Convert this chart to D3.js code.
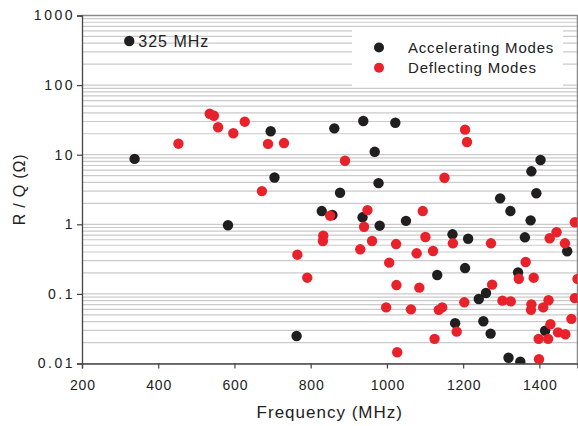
<!DOCTYPE html>
<html>
<head>
<meta charset="utf-8">
<script src="https://cdn.jsdelivr.net/npm/d3@7"></script>
<style>
    body { margin: 0; background: #fff; }
    text { font-family: "Liberation Sans", Arial, sans-serif; fill: #222; }
</style>
</head>
<body>
<div id="chart"></div>
<script>
// Accelerating modes (black)
const accelFreq = [324, 338, 583, 695, 705, 862, 938, 1022, 968, 978, 877, 829, 857, 936, 981, 1050,
    1172, 1213, 1132, 1205, 763, 1179, 1241, 1260, 1253, 1272, 1319, 1350, 1344, 1415, 1473, 1362,
    1377, 1297, 1324, 1379, 1403, 1392];
const accelRQ = [430, 8.7, 0.97, 21.7, 4.7, 23.9, 30.5, 28.8, 11.0, 3.9, 2.84, 1.55, 1.36, 1.26, 0.955, 1.12,
    0.718, 0.62, 0.187, 0.235, 0.0248, 0.038, 0.0845, 0.103, 0.0404, 0.0269, 0.0121, 0.0106, 0.204, 0.0296, 0.41, 0.65,
    1.14, 2.36, 1.55, 5.77, 8.4, 2.79];

// Deflecting modes (red)
const deflectFreq = [453, 535, 546, 557, 597, 627, 672, 688, 730, 890, 1205, 1210, 1151, 851, 949, 1094,
    1493, 940, 833, 832, 765, 791, 930, 961, 1024, 1101, 1078, 1121, 1173, 1273, 1006, 1025,
    1085, 998, 1063, 1136, 1145, 1125, 1027, 1183, 1203, 1276, 1303, 1325, 1346, 1364, 1385, 1379,
    1378, 1410, 1424, 1429, 1449, 1468, 1398, 1423, 1399, 1484, 1493, 1500, 1427, 1445, 1467];
const deflectRQ = [14.4, 38.8, 36.3, 24.8, 20.3, 29.8, 3.0, 14.3, 14.7, 8.2, 22.9, 15.2, 4.67, 1.33, 1.6, 1.55,
    1.07, 0.92, 0.686, 0.575, 0.366, 0.171, 0.437, 0.575, 0.52, 0.657, 0.383, 0.414, 0.533, 0.533, 0.281, 0.134,
    0.123, 0.064, 0.060, 0.059, 0.064, 0.0226, 0.0145, 0.0287, 0.0757, 0.136, 0.080, 0.078, 0.165, 0.287, 0.171, 0.0708,
    0.059, 0.064, 0.081, 0.0366, 0.028, 0.0263, 0.0226, 0.0226, 0.0115, 0.0438, 0.087, 0.164, 0.63, 0.77, 0.533];

const xTicks = [200, 400, 600, 800, 1000, 1200, 1400];
const yTicks = [0.01, 0.1, 1, 10, 100, 1000];
const yTickLabels = ["0.01", "0.1", "1", "10", "100", "1000"];
const seriesNames = ["Accelerating Modes", "Deflecting Modes"];
const seriesColors = ["#211e1f", "#e8212b"];

const margin = { top: 15.5, right: 0.5, bottom: 62.5, left: 82 },
    width = 578 - margin.left - margin.right,
    height = 426 - margin.top - margin.bottom;

const svg = d3.select("#chart")
    .append("svg")
    .attr("width", 578)
    .attr("height", 426);

const g = svg.append("g")
    .attr("transform", `translate(${margin.left},${margin.top})`);

// Scales
const xScale = d3.scaleLinear().domain([200, 1500]).range([0, width]);
const yScale = d3.scaleLog().domain([0.01, 1000]).range([height, 0]);

// Horizontal grid at every minor tick
g.append("g")
    .selectAll("line")
    .data(yScale.ticks())
    .join("line")
    .attr("x1", 0)
    .attr("x2", width)
    .attr("y1", d => yScale(d))
    .attr("y2", d => yScale(d))
    .attr("stroke", "#cacaca")
    .attr("stroke-width", 1.2);

// Top and right frame
g.append("path")
    .attr("d", `M0,0H${width}V${height}`)
    .attr("fill", "none")
    .attr("stroke", "#8a8a8a")
    .attr("stroke-width", 1.5);

// Axes
const xAxis = g.append("g")
    .attr("transform", `translate(0,${height})`)
    .call(d3.axisBottom(xScale).tickValues(xTicks).tickSize(5).tickPadding(12).tickFormat(d3.format("d")));

const yAxis = g.append("g")
    .call(d3.axisLeft(yScale).tickValues(yTicks).tickSize(5).tickPadding(2)
        .tickFormat((d, i) => yTickLabels[i]));

[xAxis, yAxis].forEach(ax => {
    ax.select(".domain").attr("stroke", "#444").attr("stroke-width", 1.3);
    ax.selectAll(".tick line").attr("stroke", "#444").attr("stroke-width", 1.2);
    ax.selectAll("text")
        .attr("font-family", "'Liberation Sans', Arial, sans-serif")
        .attr("font-size", 14)
        .attr("fill", "#222");
});
xAxis.selectAll("text").attr("letter-spacing", 0.8).attr("dx", "0.4");
yAxis.selectAll("text").attr("letter-spacing", 2.5);

// Points
svg.append("clipPath").attr("id", "plotClip")
    .append("rect").attr("width", width).attr("height", height);

const pts = g.append("g").attr("clip-path", "url(#plotClip)");

const accelData = accelFreq.map((f, i) => ({ f: f, v: accelRQ[i] }));
const deflectData = deflectFreq.map((f, i) => ({ f: f, v: deflectRQ[i] }));

pts.selectAll("circle.acc")
    .data(accelData)
    .join("circle")
    .attr("class", "acc")
    .attr("cx", d => xScale(d.f))
    .attr("cy", d => yScale(d.v))
    .attr("r", 5.2)
    .attr("fill", seriesColors[0]);

pts.selectAll("circle.def")
    .data(deflectData)
    .join("circle")
    .attr("class", "def")
    .attr("cx", d => xScale(d.f))
    .attr("cy", d => yScale(d.v))
    .attr("r", 5.2)
    .attr("fill", seriesColors[1]);

// Label for the 325 MHz mode
g.append("text")
    .attr("x", xScale(accelData[0].f) + 9)
    .attr("y", yScale(accelData[0].v))
    .attr("dy", "0.36em")
    .attr("font-size", 16)
    .attr("letter-spacing", 1)
    .text("325 MHz");

// Legend
const legend = svg.append("g").attr("transform", "translate(352,30)");
legend.append("rect")
    .attr("width", 211)
    .attr("height", 56)
    .attr("fill", "#fff");

seriesNames.forEach((name, i) => {
    legend.append("circle")
        .attr("cx", 27)
        .attr("cy", 17.5 + i * 20.3)
        .attr("r", 5)
        .attr("fill", seriesColors[i]);
    legend.append("text")
        .attr("x", 56)
        .attr("y", 17.5 + i * 20.3)
        .attr("dy", "0.36em")
        .attr("font-size", 15)
        .attr("letter-spacing", 0.8)
        .text(name);
});

// Axis titles
svg.append("text")
    .attr("text-anchor", "middle")
    .attr("x", margin.left + width / 2)
    .attr("y", 418)
    .attr("font-size", 17)
    .attr("letter-spacing", 1)
    .text("Frequency (MHz)");

svg.append("text")
    .attr("text-anchor", "middle")
    .attr("transform", `translate(25,${margin.top + height / 2}) rotate(-90)`)
    .attr("font-size", 16)
    .attr("letter-spacing", 0.8)
    .text("R / Q (Ω)");
</script>
</body>
</html>
